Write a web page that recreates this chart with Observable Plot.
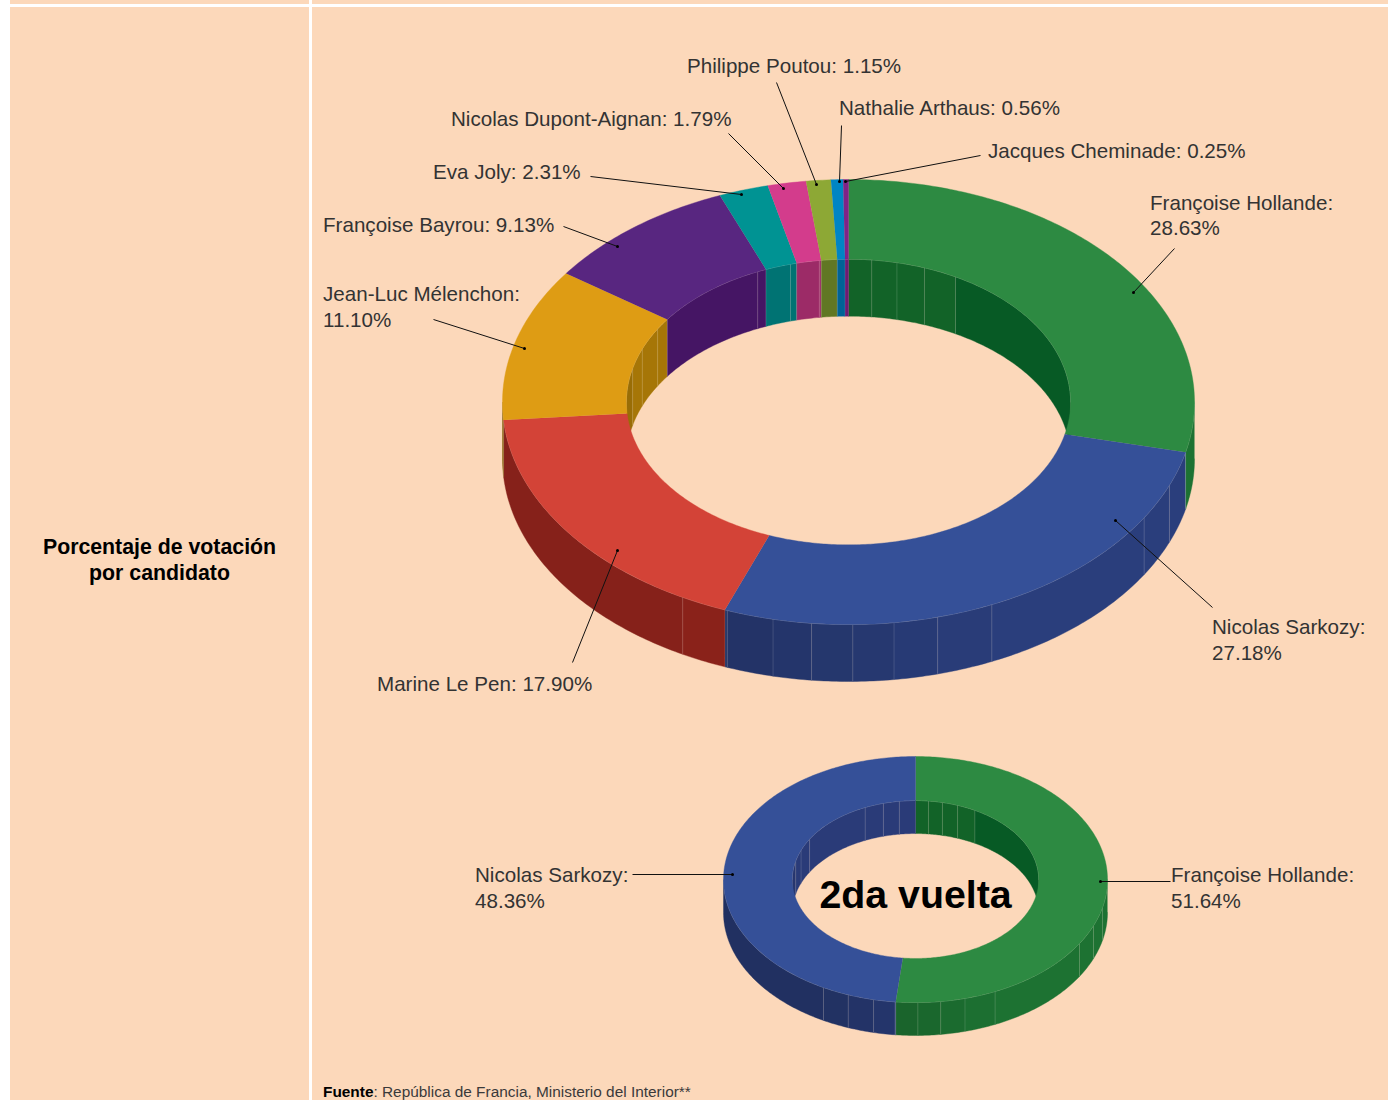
<!DOCTYPE html>
<html lang="es">
<head>
<meta charset="utf-8">
<script src="https://cdn.jsdelivr.net/npm/d3@7"></script>
<script src="https://cdn.jsdelivr.net/npm/@observablehq/plot@0.6"></script>
<style>
  html, body { margin: 0; padding: 0; background: #fff; overflow: hidden; }
  #page { position: relative; width: 1388px; height: 1100px; overflow: hidden; font-family: "Liberation Sans", sans-serif; }
  #panel { position: absolute; left: 10px; top: 0; width: 1378px; height: 1100px; background: #fcd8ba; }
  #rule-h { position: absolute; left: 10px; top: 4px; width: 1378px; height: 3px; background: #fff; }
  #rule-v { position: absolute; left: 309px; top: 0; width: 3px; height: 1100px; background: #fff; }
  #chart { position: absolute; left: 0; top: 0; }
  #chart svg { display: block; background: transparent; }
  #source { position: absolute; left: 323px; top: 1083px; font-size: 15.4px; line-height: 17px; color: #3a3a3a; white-space: nowrap; }
</style>
</head>
<body>
<div id="page">
  <div id="panel"></div><div id="rule-h"></div><div id="rule-v"></div>
  <div id="chart"></div>
  <div id="source"><b style="color:#000">Fuente</b>: República de Francia, Ministerio del Interior**</div>
</div>
<script>
// ---- data: first round
const candidates1 = ["Françoise Hollande", "Nicolas Sarkozy", "Marine Le Pen", "Jean-Luc Mélenchon", "Françoise Bayrou", "Eva Joly", "Nicolas Dupont-Aignan", "Philippe Poutou", "Nathalie Arthaus", "Jacques Cheminade"];
const votes1 = [28.63, 27.18, 17.90, 11.10, 9.13, 2.31, 1.79, 1.15, 0.56, 0.25];
const topColors1 = ["#2d8a42", "#355098", "#d34337", "#de9c14", "#582680", "#009393", "#d33c8c", "#8da835", "#0085c4", "#7f2387"];
const sideColors1 = ["#1d7232", "#2a3e7c", "#ac2a21", "#a67607", "#451564", "#007373", "#9c2b67", "#617724", "#006396", "#6c1c73"];
const innerColors1 = ["#126328", "#2a3b78", "#9c2b20", "#a67607", "#451564", "#007373", "#9c2b67", "#617724", "#006396", "#6c1c73"];

// ---- data: second round
const candidates2 = ["Françoise Hollande", "Nicolas Sarkozy"];
const votes2 = [51.64, 48.36];
const topColors2 = ["#2d8a42", "#355098"];
const sideColors2 = ["#1d7232", "#2a3e7c"];
const innerColors2 = ["#126328", "#2a3b78"];
const innerFarGreen = "#075a25";

// ---- seams in the extruded walls, as a share of the circle
const outerSeams = [28.6, 31.1, 33.7, 43.2, 45.85, 47.9, 49.8, 51.7, 53.5, 55.7, 57.95];
const innerSeams = [1.67, 3.5, 5.55, 8, 78.8, 81.05, 83.55, 93.3, 95.8, 97.9];
const outerShadeStops = [43.2, 45.85, 47.9, 49.8, 51.7, 53.5, 55.7, 57.95];
const outerShades = [1, 0.97, 0.94, 0.9, 0.88, 0.86, 0.83, 0.8, 0.78];
const innerShadeStops = [75, 78.8];
const innerShades = [1, 0.92, 1];

// ---- layout of the two rings
const ring1 = {cx: 848, cy: 401.5, rx: 346, ry: 222.5, depth: 57};
const ring2 = {cx: 915, cy: 879, rx: 192, ry: 123, depth: 33};
const holeShare = 0.642;

// ---- label and leader placement
const labelLayout1 = [
  {x: 1149.5, y: 214, lx1: 1174, ly1: 248, lx2: 1133, ly2: 292, wrap: true},
  {x: 1211.5, y: 638.5, lx1: 1212, ly1: 607, lx2: 1115, ly2: 520, wrap: true},
  {x: 376.5, y: 682, lx1: 572, ly1: 662, lx2: 617, ly2: 550},
  {x: 322.5, y: 305.5, lx1: 433, ly1: 319, lx2: 524, ly2: 348, wrap: true},
  {x: 322.5, y: 223, lx1: 563, ly1: 226, lx2: 617, ly2: 246},
  {x: 432.5, y: 170, lx1: 590, ly1: 176, lx2: 741, ly2: 194},
  {x: 450.5, y: 117, lx1: 728, ly1: 133, lx2: 783, ly2: 188},
  {x: 686.5, y: 64, lx1: 776, ly1: 82, lx2: 816, ly2: 184},
  {x: 838.5, y: 106, lx1: 841, ly1: 125, lx2: 839, ly2: 181},
  {x: 987.5, y: 149, lx1: 980, ly1: 155, lx2: 845, ly2: 181}
];
const labelLayout2 = [
  {x: 1170.5, y: 886.5, lx1: 1170, ly1: 881, lx2: 1100, ly2: 881, wrap: true},
  {x: 474.5, y: 886.5, lx1: 632, ly1: 874, lx2: 732, ly2: 874, wrap: true}
];

// ---- geometry from the values
const toPoint = (ring, pct, share, drop) => {
  const a = pct * 3.6 * Math.PI / 180;
  return [ring.cx + ring.rx * share * Math.sin(a), ring.cy - ring.ry * share * Math.cos(a) + drop];
};
const arc = (ring, from, to, share, drop) => {
  const n = Math.max(2, Math.ceil(Math.abs(to - from) / 0.2));
  return d3.range(n + 1).map(i => toPoint(ring, from + (to - from) * i / n, share, drop));
};
const shaded = (color, k) => {
  const c = d3.rgb(color);
  return d3.rgb(c.r * k, c.g * k, c.b * k).formatHex();
};
const polygonRows = (id, color, points) => points.map(([x, y]) => ({id, color, x, y}));

function buildRing(values, tops, sides, inners, ring, tag) {
  const cum = d3.cumsum(values);
  const starts = [0, ...cum.slice(0, -1)];
  const sliceAt = p => Math.min(values.length - 1, d3.bisectRight(Array.from(cum), p));
  const top = [], walls = [], seams = [];

  values.forEach((_, i) => {
    top.push(...polygonRows(`${tag}t${i}`, tops[i], [
      ...arc(ring, starts[i], cum[i], 1, 0),
      ...arc(ring, cum[i], starts[i], holeShare, 0)
    ]));
  });

  // front of the outer wall, 3 to 9 o'clock
  const outerBreaks = [...new Set([25, 75, ...outerSeams, ...cum.filter(c => c > 25 && c < 75)])].sort((a, b) => a - b);
  d3.pairs(outerBreaks).forEach(([a, b], j) => {
    const i = sliceAt((a + b) / 2);
    const k = outerShades[d3.bisectRight(outerShadeStops, (a + b) / 2)];
    walls.push(...polygonRows(`${tag}o${j}`, shaded(sides[i], k), [
      ...arc(ring, a, b, 1, 0),
      ...arc(ring, b, a, 1, ring.depth)
    ]));
  });
  outerBreaks.slice(1, -1).forEach(p => {
    const [x1, y1] = toPoint(ring, p, 1, 0), [x2, y2] = toPoint(ring, p, 1, ring.depth);
    seams.push({x1, y1, x2, y2});
  });

  // back of the inner wall, 9 to 3 o'clock
  const innerBreaks = [...new Set([0, 25, 75, 100, ...innerSeams, ...cum.filter(c => c < 25 || (c > 75 && c < 100))])].sort((a, b) => a - b);
  d3.pairs(innerBreaks).forEach(([a, b], j) => {
    if (a >= 25 && b <= 75) return;
    const mid = (a + b) / 2;
    const i = sliceAt(mid);
    const k = innerShades[d3.bisectRight(innerShadeStops, mid)];
    const color = (i === 0 && mid > 8) ? innerFarGreen : shaded(inners[i], k);
    walls.push(...polygonRows(`${tag}i${j}`, color, [
      ...arc(ring, a, b, holeShare, 0),
      ...arc(ring, b, a, holeShare, ring.depth)
    ]));
  });
  innerBreaks.filter(p => p > 0 && p < 100 && p !== 25 && p !== 75).forEach(p => {
    const [x1, y1] = toPoint(ring, p, holeShare, 0), [x2, y2] = toPoint(ring, p, holeShare, ring.depth);
    seams.push({x1, y1, x2, y2});
  });

  const rims = [
    ...arc(ring, 25, 75, 1, 0).map(([x, y]) => ({id: `${tag}r1`, x, y})),
    ...arc(ring, 75, 125, holeShare, 0).map(([x, y]) => ({id: `${tag}r2`, x, y}))
  ];
  return {top, walls, seams, rims};
}

const parts1 = buildRing(votes1, topColors1, sideColors1, innerColors1, ring1, "a");
const parts2 = buildRing(votes2, topColors2, sideColors2, innerColors2, ring2, "b");

const labelRows = (names, values, layout) => names.map((name, i) => ({
  ...layout[i],
  text: `${name}:${layout[i].wrap ? "\n" : " "}${values[i].toFixed(2)}%`
}));
const labels = [...labelRows(candidates1, votes1, labelLayout1), ...labelRows(candidates2, votes2, labelLayout2)];

const ringMarks = parts => [
  Plot.line(parts.walls, {x: "x", y: "y", z: "id", fill: "color", stroke: "color", strokeWidth: 0.4, curve: "linear"}),
  Plot.link(parts.seams, {x1: "x1", y1: "y1", x2: "x2", y2: "y2", stroke: "#fff", strokeOpacity: 0.2, strokeWidth: 0.7}),
  Plot.line(parts.rims, {x: "x", y: "y", z: "id", stroke: "#fff", strokeOpacity: 0.3, strokeWidth: 0.8, curve: "linear"}),
  Plot.line(parts.top, {x: "x", y: "y", z: "id", fill: "color", stroke: "color", strokeWidth: 0.4, curve: "linear"})
];

const chart = Plot.plot({
  width: 1388,
  height: 1100,
  margin: 0,
  style: {background: "transparent"},
  x: {domain: [0, 1388], range: [0, 1388], axis: null},
  y: {domain: [0, 1100], range: [0, 1100], axis: null},
  color: {type: "identity"},
  marks: [
    ...ringMarks(parts1),
    ...ringMarks(parts2),
    Plot.link(labels, {x1: "lx1", y1: "ly1", x2: "lx2", y2: "ly2", stroke: "#111", strokeWidth: 1}),
    Plot.dot(labels, {x: "lx2", y: "ly2", r: 1.5, fill: "#000"}),
    Plot.text(labels, {x: "x", y: "y", text: "text", textAnchor: "start", lineAnchor: "middle", lineHeight: 1.24, fontSize: 20.6, fontFamily: "Liberation Sans", fill: "#333"}),
    Plot.text(["Porcentaje de votación\npor candidato"], {x: [159], y: [558.5], textAnchor: "middle", lineAnchor: "middle", lineHeight: 1.22, fontSize: 21.3, fontWeight: 700, fontFamily: "Liberation Sans", fill: "#000"}),
    Plot.text(["2da vuelta"], {x: [915], y: [895], textAnchor: "middle", lineAnchor: "middle", fontSize: 39.3, fontWeight: 700, fontFamily: "Liberation Sans", fill: "#000"})
  ]
});
document.getElementById("chart").append(chart);
</script>
</body>
</html>
